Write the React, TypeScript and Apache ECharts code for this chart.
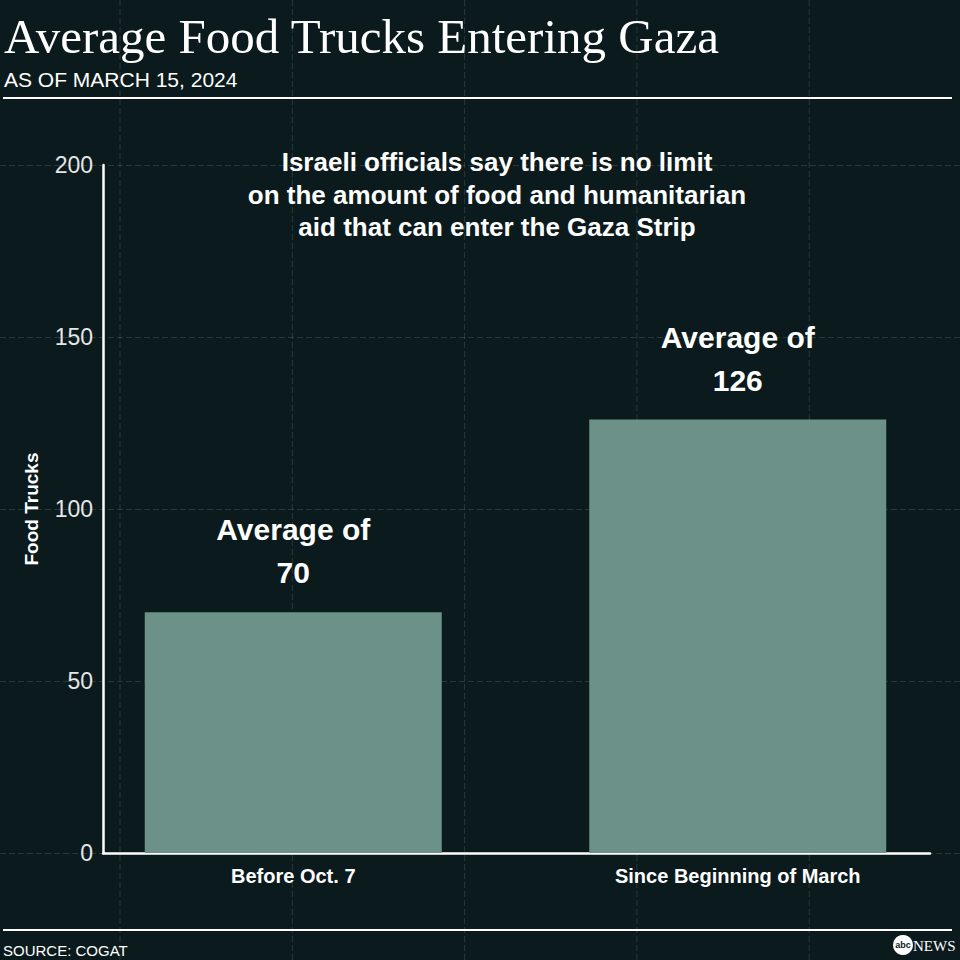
import React, { useEffect, useRef } from "react";
import * as echarts from "echarts";

const categories = ["Before Oct. 7", "Since Beginning of March"];
const averages = [70, 126];
const yMin = 0;
const yMax = 200;
const yInterval = 50;
const titleText = "Average Food Trucks Entering Gaza";
const subtitleText = "AS OF MARCH 15, 2024";
const annotationLines = [
  "Israeli officials say there is no limit",
  "on the amount of food and humanitarian",
  "aid that can enter the Gaza Strip",
];
const yAxisName = "Food Trucks";
const sourceText = "SOURCE: COGAT";

const BG = "#0b1a1c";
const BAR = "#6b9189";
const SANS = "'Liberation Sans', Arial, Helvetica, sans-serif";
const SERIF = "'Liberation Serif', 'Times New Roman', serif";
const FAINT = "rgba(255,255,255,0.13)";

export default function App() {
  const ref = useRef<HTMLDivElement>(null);
  useEffect(() => {
    document.body.style.margin = "0";
    document.body.style.background = BG;
    if (!ref.current) return;
    const chart = echarts.init(ref.current, undefined, { renderer: "svg" });

    const vLines: any[] = [];
    for (let i = 0; i < 5; i++) {
      const x = 120 + i * 172.3;
      vLines.push({
        type: "line",
        z: 0,
        shape: { x1: x, y1: 0, x2: x, y2: 960 },
        style: { stroke: FAINT, lineWidth: 1, lineDash: [6, 3] },
        silent: true,
      });
    }

    const option: any = {
      animation: false,
      backgroundColor: BG,
      grid: [
        { left: 71, width: 893, top: 165, bottom: 107 },
        { left: 103, right: 30, top: 165, bottom: 107 },
        { left: 0, right: 0, top: 165, bottom: 107 },
      ],
      xAxis: [
        {
          gridIndex: 0,
          type: "category",
          data: categories,
          axisLine: { show: false },
          axisTick: { show: false },
          axisLabel: {
            color: "#ffffff",
            fontFamily: SANS,
            fontWeight: "bold",
            fontSize: 20,
            margin: 13,
          },
        },
        {
          gridIndex: 1,
          type: "category",
          data: categories,
          axisLine: { show: true, lineStyle: { color: "#ffffff", width: 2.5 } },
          axisTick: { show: false },
          axisLabel: { show: false },
        },
        {
          gridIndex: 2,
          type: "category",
          data: categories,
          show: false,
        },
      ],
      yAxis: [
        {
          gridIndex: 0,
          type: "value",
          min: yMin,
          max: yMax,
          interval: yInterval,
          show: false,
        },
        {
          gridIndex: 1,
          type: "value",
          min: yMin,
          max: yMax,
          interval: yInterval,
          axisLine: { show: true, lineStyle: { color: "#ffffff", width: 2.5 } },
          axisTick: { show: false },
          splitLine: { show: false },
          axisLabel: {
            color: "#e6e6e6",
            fontFamily: SANS,
            fontSize: 23,
            margin: 10,
          },
          name: yAxisName,
          nameLocation: "middle",
          nameRotate: 90,
          nameGap: 62,
          nameTextStyle: {
            color: "#ffffff",
            fontFamily: SANS,
            fontWeight: "bold",
            fontSize: 19,
          },
        },
        {
          gridIndex: 2,
          type: "value",
          min: yMin,
          max: yMax,
          interval: yInterval,
          axisLine: { show: false },
          axisTick: { show: false },
          axisLabel: { show: false },
          splitLine: {
            show: true,
            lineStyle: { color: FAINT, width: 1, type: [6, 3] },
          },
        },
      ],
      series: [
        {
          type: "bar",
          xAxisIndex: 0,
          yAxisIndex: 0,
          data: averages,
          barWidth: 297,
          itemStyle: { color: BAR },
          z: 3,
          label: {
            show: true,
            position: "top",
            distance: 18,
            formatter: (p: any) => "Average of\n" + p.value,
            color: "#ffffff",
            fontFamily: SANS,
            fontWeight: "bold",
            fontSize: 30,
            lineHeight: 43,
            align: "center",
          },
        },
      ],
      graphic: [
        ...vLines,
        {
          type: "text",
          x: 4,
          y: 36,
          style: {
            text: titleText,
            fill: "#ffffff",
            font: `49px ${SERIF}`,
            textAlign: "left",
            textVerticalAlign: "middle",
          },
        },
        {
          type: "text",
          x: 4,
          y: 79,
          style: {
            text: subtitleText,
            fill: "#ffffff",
            font: `21px ${SANS}`,
            textAlign: "left",
            textVerticalAlign: "middle",
          },
        },
        {
          type: "rect",
          shape: { x: 3, y: 97, width: 949, height: 2 },
          style: { fill: "#ffffff" },
        },
        {
          type: "text",
          x: 497,
          y: 146,
          style: {
            text: annotationLines.join("\n"),
            fill: "#ffffff",
            font: `bold 26px ${SANS}`,
            lineHeight: 32.5,
            textAlign: "center",
            textVerticalAlign: "top",
          },
        },
        {
          type: "rect",
          shape: { x: 3, y: 929, width: 949, height: 2 },
          style: { fill: "#ffffff" },
        },
        {
          type: "text",
          x: 3,
          y: 950,
          style: {
            text: sourceText,
            fill: "#ffffff",
            font: `15px ${SANS}`,
            textAlign: "left",
            textVerticalAlign: "middle",
          },
        },
        {
          type: "circle",
          shape: { cx: 903, cy: 945, r: 10 },
          style: { fill: "#ffffff" },
        },
        {
          type: "text",
          x: 903,
          y: 945,
          style: {
            text: "abc",
            fill: "#0b1a1c",
            font: `bold 9px ${SANS}`,
            textAlign: "center",
            textVerticalAlign: "middle",
          },
        },
        {
          type: "text",
          x: 913,
          y: 946,
          style: {
            text: "NEWS",
            fill: "#ffffff",
            font: `15px ${SERIF}`,
            textAlign: "left",
            textVerticalAlign: "middle",
          },
        },
      ],
    };

    chart.setOption(option);
    return () => chart.dispose();
  }, []);

  return <div ref={ref} style={{ width: 960, height: 960 }} />;
}
